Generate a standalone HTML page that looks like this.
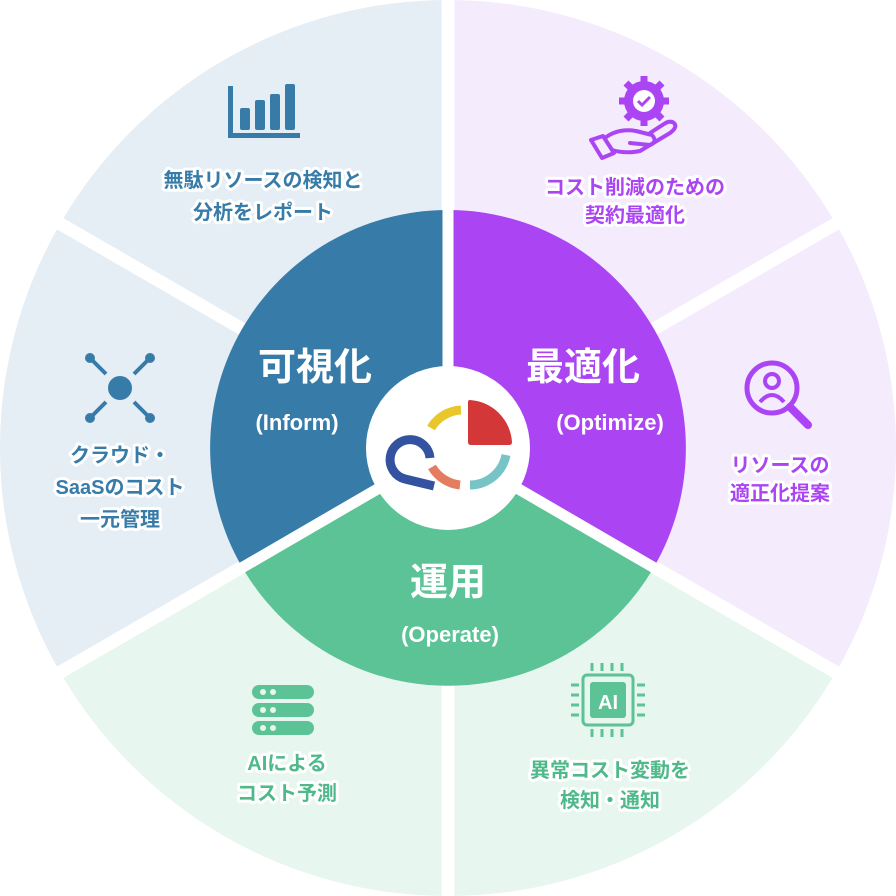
<!DOCTYPE html>
<html><head><meta charset="utf-8"><style>
html,body{margin:0;padding:0;background:#fff}
svg{display:block}
text{font-family:"Liberation Sans","Noto Sans CJK JP",sans-serif;font-weight:bold;text-anchor:middle}
.h{stroke:#fff;stroke-width:6px;paint-order:stroke;stroke-linejoin:round}
</style></head><body>
<svg width="896" height="896" viewBox="0 0 896 896" xmlns="http://www.w3.org/2000/svg">
<g>
<path d="M448,448 L448,0 A448,448 0 0 0 60,224 Z" fill="#e5edf5"/>
<path d="M448,448 L60,224 A448,448 0 0 0 60,672 Z" fill="#e5edf5"/>
<path d="M448,448 L60,672 A448,448 0 0 0 448,896 Z" fill="#e7f6ee"/>
<path d="M448,448 L448,896 A448,448 0 0 0 836,672 Z" fill="#e7f6ee"/>
<path d="M448,448 L836,672 A448,448 0 0 0 836,224 Z" fill="#f4ebfd"/>
<path d="M448,448 L836,224 A448,448 0 0 0 448,0 Z" fill="#f4ebfd"/>
</g>
<g stroke="#fff" stroke-width="13">
<line x1="448" y1="448" x2="448" y2="0"/>
<line x1="448" y1="448" x2="448" y2="896"/>
<line x1="448" y1="448" x2="52" y2="219"/>
<line x1="448" y1="448" x2="52" y2="677"/>
<line x1="448" y1="448" x2="844" y2="219"/>
<line x1="448" y1="448" x2="844" y2="677"/>
</g>
<path d="M448,448 L448,210 A238,238 0 0 0 242,567 Z" fill="#377ca9"/>
<path d="M448,448 L448,210 A238,238 0 0 1 654,567 Z" fill="#ab45f4"/>
<path d="M448,448 L242,567 A238,238 0 0 0 654,567 Z" fill="#5bc396"/>
<g stroke="#fff" stroke-width="11">
<line x1="448" y1="448" x2="448" y2="205"/>
<line x1="448" y1="448" x2="238" y2="570"/>
<line x1="448" y1="448" x2="658" y2="570"/>
</g>
<circle cx="448" cy="448" r="82" fill="#fff"/>
<g fill="none" stroke-width="9">
<path d="M431,428 A37,37 0 0 1 461,410" stroke="#e9c72a"/>
<path d="M506,455 A37,37 0 0 1 470,485" stroke="#77c4c6"/>
<path d="M460,485 A37,37 0 0 1 432,467" stroke="#e57b5f"/>
<path d="M430,458 A20,20 0 1 0 405,479 L434,486" stroke="#33529f"/>
</g>
<path d="M468,402 Q468,400 470,400 A45,45 0 0 1 512,442 Q512,445 509,445 L471,445 Q468,445 468,442 Z" fill="#d43738"/>
<g fill="#fff">
<text x="315" y="380" font-size="38">可視化</text>
<text x="297" y="430" font-size="22">(Inform)</text>
<text x="583" y="380" font-size="38">最適化</text>
<text x="610" y="430" font-size="22">(Optimize)</text>
<text x="448" y="595" font-size="38">運用</text>
<text x="450" y="642" font-size="22">(Operate)</text>
</g>
<g font-size="20" class="h">
<g fill="#377ca9">
<text x="263" y="187">無駄リソースの検知と</text>
<text x="263" y="219">分析をレポート</text>
<text x="120" y="462">クラウド・</text>
<text x="120" y="494">SaaSのコスト</text>
<text x="120" y="526">一元管理</text>
</g>
<g fill="#ab45f4">
<text x="635" y="194">コスト削減のための</text>
<text x="635" y="222">契約最適化</text>
<text x="780" y="472">リソースの</text>
<text x="780" y="500">適正化提案</text>
</g>
<g fill="#4fb98a">
<text x="287" y="770">AIによる</text>
<text x="287" y="800">コスト予測</text>
<text x="610" y="777">異常コスト変動を</text>
<text x="610" y="807">検知・通知</text>
</g>
</g>
<g fill="#377ca9">
<rect x="228" y="86" width="5" height="52"/><rect x="228" y="133" width="72" height="5"/>
<rect x="240" y="108" width="10" height="22" rx="2"/><rect x="255" y="100" width="10" height="30" rx="2"/>
<rect x="270" y="94" width="10" height="36" rx="2"/><rect x="285" y="84" width="10" height="46" rx="2"/>
<circle cx="120" cy="388" r="12"/>
</g>
<g stroke="#377ca9" stroke-width="4" fill="none">
<line x1="92" y1="360" x2="106" y2="374"/><line x1="148" y1="360" x2="134" y2="374"/>
<line x1="92" y1="416" x2="106" y2="402"/><line x1="148" y1="416" x2="134" y2="402"/>
</g>
<g fill="#377ca9">
<circle cx="90" cy="358" r="5"/><circle cx="150" cy="358" r="5"/><circle cx="90" cy="418" r="5"/><circle cx="150" cy="418" r="5"/>
</g>
<g fill="#ab45f4">
<circle cx="644" cy="101" r="20"/>
<g stroke="#ab45f4" stroke-width="7">
<line x1="644" y1="76" x2="644" y2="126"/><line x1="619" y1="101" x2="669" y2="101"/>
<line x1="626" y1="83" x2="662" y2="119"/><line x1="662" y1="83" x2="626" y2="119"/>
</g>
<circle cx="644" cy="101" r="11" fill="#fff"/>
</g>
<path d="M638,101 l4,4 l8,-8" stroke="#ab45f4" stroke-width="3" fill="none"/>
<g stroke="#ab45f4" stroke-width="4" fill="none" stroke-linecap="round" stroke-linejoin="round">
<path d="M591,140 L603,136 L614,153 L602,158 Z"/>
<path d="M605,138 Q618,128 636,131 L652,135 Q658,142 650,145 L630,143"/>
<path d="M612,150 Q625,154 640,151 L670,133 Q678,127 674,123 Q670,120 664,124 L650,133"/>
</g>
<g stroke="#ab45f4" stroke-width="5" fill="none">
<circle cx="772" cy="388" r="25"/>
<line x1="790" y1="407" x2="808" y2="425" stroke-width="8" stroke-linecap="round"/>
<circle cx="772" cy="381" r="7" stroke-width="4"/>
<path d="M760,402 Q772,388 784,402" stroke-width="4"/>
</g>
<g fill="#5bc396">
<rect x="252" y="685" width="62" height="14" rx="7"/>
<rect x="252" y="703" width="62" height="14" rx="7"/>
<rect x="252" y="721" width="62" height="14" rx="7"/>
</g>
<g fill="#e7f6ee">
<circle cx="263" cy="692" r="3"/><circle cx="273" cy="692" r="3"/><circle cx="263" cy="710" r="3"/><circle cx="273" cy="710" r="3"/><circle cx="263" cy="728" r="3"/><circle cx="273" cy="728" r="3"/>
</g>
<g stroke="#5bc396" stroke-width="3" fill="none">
<rect x="583" y="675" width="50" height="50" rx="4"/>
<path d="M592,671v-8M602,671v-8M612,671v-8M622,671v-8M592,729v8M602,729v8M612,729v8M622,729v8M579,685h-8M579,695h-8M579,705h-8M579,715h-8M637,685h8M637,695h8M637,705h8M637,715h8"/>
</g>
<rect x="590" y="682" width="36" height="36" rx="3" fill="#5bc396"/>
<text x="608" y="709" font-size="20" fill="#fff">AI</text>
</svg>
</body></html>
